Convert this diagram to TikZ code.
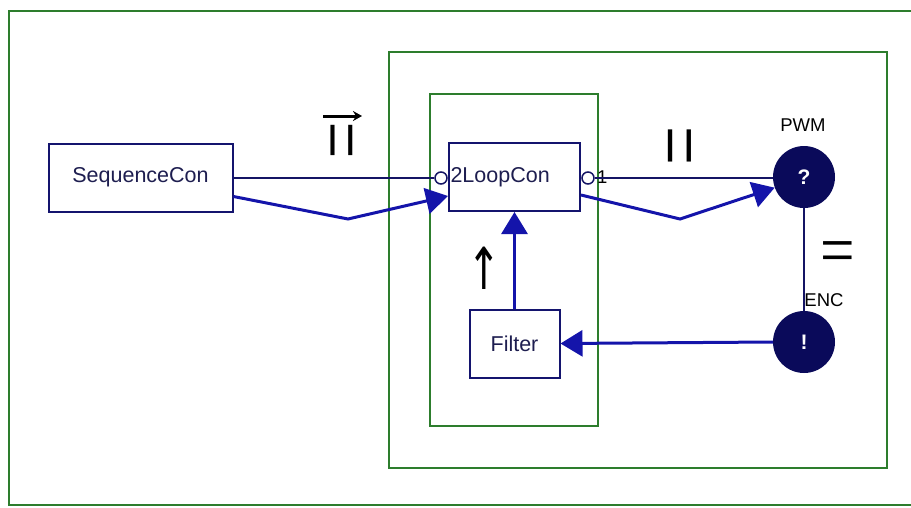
\documentclass[tikz,border=0pt]{standalone}
\usepackage{fontspec}
\setmainfont{Liberation Sans}
\newfontfamily\symfont{DejaVu Sans}
\newfontfamily\eqfont{Liberation Serif}
\usetikzlibrary{arrows.meta}
\definecolor{frameg}{RGB}{45,125,45}
\definecolor{boxnavy}{RGB}{20,20,110}
\definecolor{boxtext}{RGB}{30,30,80}
\definecolor{thinnavy}{RGB}{20,20,100}
\definecolor{arrblue}{RGB}{20,20,170}
\definecolor{dotfill}{RGB}{10,10,90}
\tikzset{
  frame/.style={draw=frameg, line width=2.5pt},
  blockbox/.style={draw=boxnavy, line width=2pt, fill=white, text=boxtext, inner sep=0pt,
    minimum height=68pt, font=\fontsize{21.5}{24}\selectfont},
  portdot/.style={circle, draw=thinnavy, fill=white, line width=1.5pt, minimum size=12pt, inner sep=0pt},
  iodot/.style={circle, fill=dotfill, minimum size=62pt, inner sep=0pt, text=white,
    font=\fontsize{21}{24}\selectfont\bfseries},
  thinline/.style={draw=thinnavy, line width=2pt},
  flowarrow/.style={draw=arrblue, line width=3pt, -{Triangle[length=22pt,width=26pt]}},
  iolabel/.style={text=black, font=\fontsize{18.5}{20}\selectfont, inner sep=0pt},
  symlabel/.style={text=black, inner sep=0pt}
}
\begin{document}
\begin{tikzpicture}[x=1pt,y=-1pt]
\useasboundingbox (0,0) rectangle (911,507);
\begin{scope}
\clip (0,0) rectangle (911,507);
\draw[frame] (9,11) rectangle (930,505);
\end{scope}
\draw[frame] (389,52) rectangle (887,468);
\draw[frame] (430,94) rectangle (598,426);

\node[blockbox, minimum width=184pt] (seq) at (140.5,177.5) {SequenceCon};
\node[blockbox, minimum width=131pt, text width=128pt, align=left] (loop) at (514.5,177) {2LoopCon};
\node[blockbox, minimum width=90pt] (filter) at (514.5,343.5) {Filter};
\node[iodot] (pwm) at (804,177) {?};
\node[iodot] (enc) at (804,342) {!};

\node[portdot] (inport) at (441,178) {};
\node[portdot] (outport) at (588,178) {};
\node[iolabel, anchor=west] (one) at (597,177) {1};

\node[iolabel] (pwmlab) at (803,125) {PWM};
\node[iolabel] (enclab) at (824,300) {ENC};

\coordinate (b1) at (348,219);
\coordinate (b2) at (680,219);

\draw[thinline] (seq.east |- inport) -- (inport.west);
\draw[thinline] (outport.east) -- (pwm.west |- outport);
\draw[thinline] (pwm.south) -- (enc.north);

\draw[flowarrow] ([yshift=-19pt]seq.east) -- (b1) -- ([yshift=-19pt]loop.west);
\draw[flowarrow] ([yshift=-18pt]loop.east) -- (b2) -- (pwm.200);
\draw[flowarrow] (enc.west) -- (filter.east);
\draw[flowarrow] (filter.north) -- (loop.south);

\node[symlabel, font=\fontsize{32}{32}\selectfont\bfseries] (par1) at (341.5,140) {| |};
\draw[line width=3pt, -{Stealth[length=9pt,width=10pt]}] (323,116) -- (362,116);
\node[symlabel, font=\fontsize{34}{34}\selectfont\bfseries] (par2) at (679.5,146) {| |};
\node[symlabel, font=\eqfont\fontsize{72}{72}\selectfont] (eqsym) at (838,258) {\scalebox{0.85}[1]{=}};
\node[symlabel, font=\symfont\fontsize{40}{40}\selectfont] (uparr) at (484,268) {\scalebox{1}[1.45]{↑}};
\end{tikzpicture}
\end{document}
